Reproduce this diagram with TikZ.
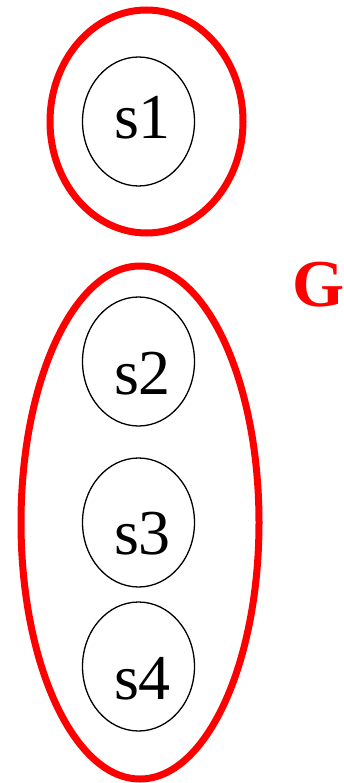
\documentclass[tikz,border=0pt]{standalone}
\usepackage{fontspec}
\setmainfont{Liberation Serif}
\usetikzlibrary{shapes.geometric}
\tikzset{
  state/.style={draw,ellipse,line width=1.3pt,minimum width=112pt,minimum height=129pt,inner sep=0pt},
  statelbl/.style={font=\fontsize{64}{70}\selectfont,inner sep=0pt,xshift=4pt},
  group/.style={draw=red,ellipse,line width=7pt,inner sep=0pt},
}
\begin{document}
\begin{tikzpicture}[x=1pt,y=-1pt]
\useasboundingbox (0,0) rectangle (344,783);
% groups
\node[group,minimum width=193pt,minimum height=223pt] (g1) at (146.5,121.5) {};
\node[group,minimum width=238pt,minimum height=513pt] (g2) at (140,522.5) {};
\node[anchor=base,text=red,font=\fontsize{67}{72}\selectfont\bfseries] (G) at (319,306) {G};
% states
\node[state,label={[statelbl,yshift=4pt]center:s1}] (s1) at (138.5,121.5) {};
\node[state,label={[statelbl,yshift=-12pt]center:s2}] (s2) at (138.5,361.5) {};
\node[state,label={[statelbl,yshift=-11pt]center:s3}] (s3) at (138.5,522.5) {};
\node[state,label={[statelbl,yshift=-12pt]center:s4}] (s4) at (138.5,666.5) {};
\end{tikzpicture}
\end{document}
